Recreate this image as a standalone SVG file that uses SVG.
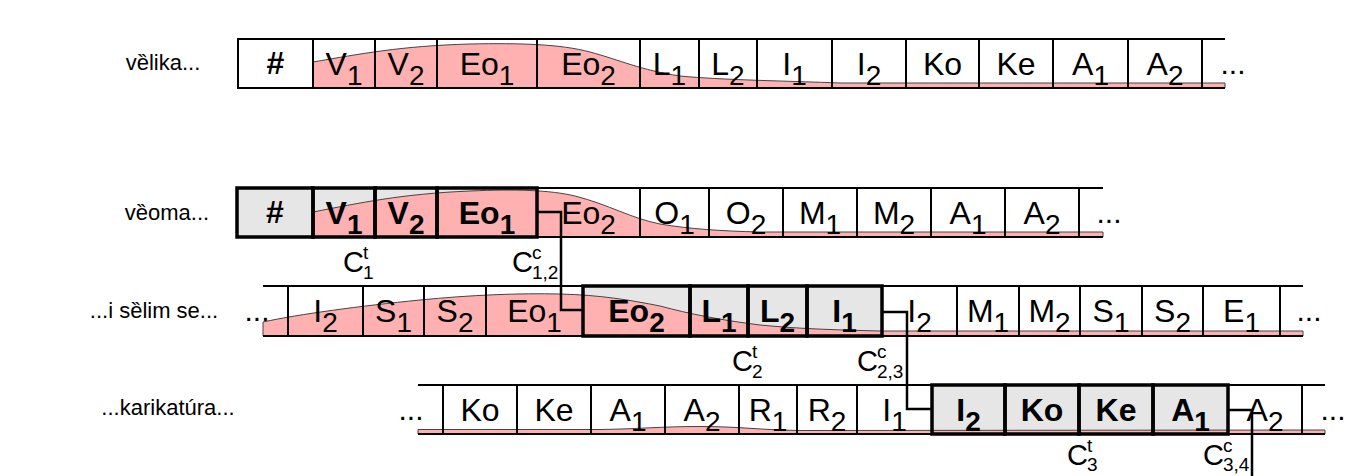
<svg xmlns="http://www.w3.org/2000/svg" width="1368" height="476" viewBox="0 0 1368 476">
  <style>
    text { font-family: "Liberation Sans", Arial, sans-serif; fill: #000; }
    .t { font-size: 32px; text-anchor: middle; }
    .s { font-size: 28px; }
    .dots { font-size: 30px; text-anchor: middle; }
    .word { font-size: 22px; text-anchor: middle; }
    .cl { font-size: 29px; }
    .cs { font-size: 19px; }
    .cell rect { fill: none; stroke: #000; stroke-width: 2; }
    .key rect { stroke-width: 3.5; }
    .key text { font-weight: bold; }
    .edge { stroke: #000; stroke-width: 2; fill: none; }
    .keybg { fill: #e6e6e6; }
    .wave { fill: #ffb0b0; stroke: #444; stroke-width: 1; }
    .link { fill: none; stroke: #000; stroke-width: 2.5; }
  </style>

  <!-- word labels -->
  <g id="words">
    <text class="word" x="163" y="70">vȅlika...</text>
    <text class="word" x="167" y="220">vȅoma...</text>
    <text class="word" x="154" y="318">...i sȅlim se...</text>
    <text class="word" x="168" y="415">...karikatúra...</text>
  </g>

  <!-- row 1: vȅlika -->
  <g id="row-velika">
    <path class="wave" d="M313,88 L313,62 C360,54 400,46 470,44 C520,43 560,44 590,52 C620,60 640,70 680,76 C720,80 790,81 840,83 L1225,83 L1225,88 Z"/>
    <g class="cell" id="r1-hash"><rect x="238" y="39" width="75" height="49"/><text class="t" x="275.5" y="74" font-weight="bold">#</text></g>
    <g class="cell" id="r1-v1"><rect x="313" y="39" width="62" height="49"/><text class="t" x="344" y="75">V<tspan class="s" dy="10">1</tspan></text></g>
    <g class="cell" id="r1-v2"><rect x="375" y="39" width="62" height="49"/><text class="t" x="406" y="75">V<tspan class="s" dy="10">2</tspan></text></g>
    <g class="cell" id="r1-eo1"><rect x="437" y="39" width="100" height="49"/><text class="t" x="487" y="75">Eo<tspan class="s" dy="10">1</tspan></text></g>
    <g class="cell" id="r1-eo2"><rect x="537" y="39" width="103" height="49"/><text class="t" x="588.5" y="75">Eo<tspan class="s" dy="10">2</tspan></text></g>
    <g class="cell" id="r1-l1"><rect x="640" y="39" width="59" height="49"/><text class="t" x="669.5" y="75">L<tspan class="s" dy="10">1</tspan></text></g>
    <g class="cell" id="r1-l2"><rect x="699" y="39" width="58" height="49"/><text class="t" x="728" y="75">L<tspan class="s" dy="10">2</tspan></text></g>
    <g class="cell" id="r1-i1"><rect x="757" y="39" width="75" height="49"/><text class="t" x="794.5" y="75">I<tspan class="s" dy="10">1</tspan></text></g>
    <g class="cell" id="r1-i2"><rect x="832" y="39" width="74" height="49"/><text class="t" x="869" y="75">I<tspan class="s" dy="10">2</tspan></text></g>
    <g class="cell" id="r1-ko"><rect x="906" y="39" width="73" height="49"/><text class="t" x="942.5" y="75">Ko</text></g>
    <g class="cell" id="r1-ke"><rect x="979" y="39" width="74" height="49"/><text class="t" x="1016" y="75">Ke</text></g>
    <g class="cell" id="r1-a1"><rect x="1053" y="39" width="75" height="49"/><text class="t" x="1090.5" y="75">A<tspan class="s" dy="10">1</tspan></text></g>
    <g class="cell" id="r1-a2"><rect x="1128" y="39" width="74" height="49"/><text class="t" x="1165" y="75">A<tspan class="s" dy="10">2</tspan></text></g>
    <path class="edge" d="M1202,39 H1225 M1202,88 H1225"/>
    <text class="dots" x="1233" y="74">...</text>
  </g>

  <!-- row 2: vȅoma -->
  <g id="row-veoma">
    <rect class="keybg" x="237" y="188" width="300" height="49"/>
    <path class="wave" d="M313,237 L313,212 C360,203 400,194 470,191 C515,189 550,190 575,196 C610,205 630,218 660,224 C690,229 720,231 760,232 L1103,232 L1103,237 Z"/>
    <g class="cell" id="r2-eo2"><rect x="537" y="188" width="103" height="49"/><text class="t" x="588.5" y="224">Eo<tspan class="s" dy="10">2</tspan></text></g>
    <g class="cell" id="r2-o1"><rect x="640" y="188" width="69" height="49"/><text class="t" x="674.5" y="224">O<tspan class="s" dy="10">1</tspan></text></g>
    <g class="cell" id="r2-o2"><rect x="709" y="188" width="74" height="49"/><text class="t" x="746" y="224">O<tspan class="s" dy="10">2</tspan></text></g>
    <g class="cell" id="r2-m1"><rect x="783" y="188" width="74" height="49"/><text class="t" x="820" y="224">M<tspan class="s" dy="10">1</tspan></text></g>
    <g class="cell" id="r2-m2"><rect x="857" y="188" width="74" height="49"/><text class="t" x="894" y="224">M<tspan class="s" dy="10">2</tspan></text></g>
    <g class="cell" id="r2-a1"><rect x="931" y="188" width="74" height="49"/><text class="t" x="968" y="224">A<tspan class="s" dy="10">1</tspan></text></g>
    <g class="cell" id="r2-a2"><rect x="1005" y="188" width="74" height="49"/><text class="t" x="1042" y="224">A<tspan class="s" dy="10">2</tspan></text></g>
    <path class="edge" d="M1079,188 H1103 M1079,237 H1103"/>
    <text class="dots" x="1109" y="223">...</text>
    <g class="cell key" id="r2-hash"><rect x="237" y="188" width="76" height="49"/><text class="t" x="275" y="223">#</text></g>
    <g class="cell key" id="r2-v1"><rect x="313" y="188" width="62" height="49"/><text class="t" x="344" y="224">V<tspan class="s" dy="10">1</tspan></text></g>
    <g class="cell key" id="r2-v2"><rect x="375" y="188" width="62" height="49"/><text class="t" x="406" y="224">V<tspan class="s" dy="10">2</tspan></text></g>
    <g class="cell key" id="r2-eo1"><rect x="437" y="188" width="100" height="49"/><text class="t" x="487" y="224">Eo<tspan class="s" dy="10">1</tspan></text></g>
  </g>

  <!-- row 3: ...i sȅlim se... -->
  <g id="row-selim">
    <rect class="keybg" x="583" y="286" width="299" height="50"/>
    <path class="wave" d="M263,336 L263,322 C300,314 360,306 420,300 C470,295 520,293 560,294 C600,295 630,300 660,306 C690,314 720,320 760,325 C800,329 840,330 880,331 L1303,331 L1303,336 Z"/>
    <text class="dots" x="257" y="321">...</text>
    <path class="edge" d="M263,286 H288 M263,336 H288"/>
    <g class="cell" id="r3-i2a"><rect x="288" y="286" width="75" height="50"/><text class="t" x="325.5" y="322">I<tspan class="s" dy="10">2</tspan></text></g>
    <g class="cell" id="r3-s1a"><rect x="363" y="286" width="61" height="50"/><text class="t" x="393.5" y="322">S<tspan class="s" dy="10">1</tspan></text></g>
    <g class="cell" id="r3-s2a"><rect x="424" y="286" width="62" height="50"/><text class="t" x="455" y="322">S<tspan class="s" dy="10">2</tspan></text></g>
    <g class="cell" id="r3-eo1"><rect x="486" y="286" width="97" height="50"/><text class="t" x="534.5" y="322">Eo<tspan class="s" dy="10">1</tspan></text></g>
    <g class="cell" id="r3-i2b"><rect x="882" y="286" width="75" height="50"/><text class="t" x="919.5" y="322">I<tspan class="s" dy="10">2</tspan></text></g>
    <g class="cell" id="r3-m1"><rect x="957" y="286" width="62" height="50"/><text class="t" x="988" y="322">M<tspan class="s" dy="10">1</tspan></text></g>
    <g class="cell" id="r3-m2"><rect x="1019" y="286" width="61" height="50"/><text class="t" x="1049.5" y="322">M<tspan class="s" dy="10">2</tspan></text></g>
    <g class="cell" id="r3-s1b"><rect x="1080" y="286" width="62" height="50"/><text class="t" x="1111" y="322">S<tspan class="s" dy="10">1</tspan></text></g>
    <g class="cell" id="r3-s2b"><rect x="1142" y="286" width="61" height="50"/><text class="t" x="1172.5" y="322">S<tspan class="s" dy="10">2</tspan></text></g>
    <g class="cell" id="r3-e1"><rect x="1203" y="286" width="77" height="50"/><text class="t" x="1241.5" y="322">E<tspan class="s" dy="10">1</tspan></text></g>
    <path class="edge" d="M1280,286 H1303 M1280,336 H1303"/>
    <text class="dots" x="1309" y="321">...</text>
    <g class="cell key" id="r3-eo2"><rect x="583" y="286" width="107" height="50"/><text class="t" x="636.5" y="322">Eo<tspan class="s" dy="10">2</tspan></text></g>
    <g class="cell key" id="r3-l1"><rect x="690" y="286" width="58" height="50"/><text class="t" x="719" y="322">L<tspan class="s" dy="10">1</tspan></text></g>
    <g class="cell key" id="r3-l2"><rect x="748" y="286" width="59" height="50"/><text class="t" x="777.5" y="322">L<tspan class="s" dy="10">2</tspan></text></g>
    <g class="cell key" id="r3-i1"><rect x="807" y="286" width="75" height="50"/><text class="t" x="844.5" y="322">I<tspan class="s" dy="10">1</tspan></text></g>
  </g>

  <!-- row 4: ...karikatúra... -->
  <g id="row-karikatura">
    <rect class="keybg" x="932" y="385" width="296" height="49"/>
    <path class="wave" d="M418,434 L418,429.5 L600,429.5 C640,429 660,426.5 700,426.5 C740,426.5 760,430 800,430.5 L1325,430 L1325,434 Z"/>
    <text class="dots" x="411" y="420">...</text>
    <path class="edge" d="M418,385 H443 M418,434 H443"/>
    <g class="cell" id="r4-ko"><rect x="443" y="385" width="74" height="49"/><text class="t" x="480" y="421">Ko</text></g>
    <g class="cell" id="r4-ke"><rect x="517" y="385" width="74" height="49"/><text class="t" x="554" y="421">Ke</text></g>
    <g class="cell" id="r4-a1"><rect x="591" y="385" width="74" height="49"/><text class="t" x="628" y="421">A<tspan class="s" dy="10">1</tspan></text></g>
    <g class="cell" id="r4-a2"><rect x="665" y="385" width="74" height="49"/><text class="t" x="702" y="421">A<tspan class="s" dy="10">2</tspan></text></g>
    <g class="cell" id="r4-r1"><rect x="739" y="385" width="58" height="49"/><text class="t" x="768" y="421">R<tspan class="s" dy="10">1</tspan></text></g>
    <g class="cell" id="r4-r2"><rect x="797" y="385" width="60" height="49"/><text class="t" x="827" y="421">R<tspan class="s" dy="10">2</tspan></text></g>
    <g class="cell" id="r4-i1"><rect x="857" y="385" width="75" height="49"/><text class="t" x="894.5" y="421">I<tspan class="s" dy="10">1</tspan></text></g>
    <g class="cell" id="r4-a2b"><rect x="1228" y="385" width="74" height="49"/><text class="t" x="1265" y="421">A<tspan class="s" dy="10">2</tspan></text></g>
    <path class="edge" d="M1302,385 H1325 M1302,434 H1325"/>
    <text class="dots" x="1333" y="420">...</text>
    <g class="cell key" id="r4-i2"><rect x="932" y="385" width="73" height="49"/><text class="t" x="968.5" y="421">I<tspan class="s" dy="10">2</tspan></text></g>
    <g class="cell key" id="r4-kob"><rect x="1005" y="385" width="74" height="49"/><text class="t" x="1042" y="421">Ko</text></g>
    <g class="cell key" id="r4-keb"><rect x="1079" y="385" width="74" height="49"/><text class="t" x="1116" y="421">Ke</text></g>
    <g class="cell key" id="r4-a1b"><rect x="1153" y="385" width="75" height="49"/><text class="t" x="1190.5" y="421">A<tspan class="s" dy="10">1</tspan></text></g>
  </g>

  <!-- connectors between consecutive syllable windows -->
  <g id="connectors">
    <polyline class="link" points="537,212 561,212 561,310 583,310"/>
    <polyline class="link" points="882,312 907,312 907,409 932,409"/>
    <polyline class="link" points="1228,410 1252,410 1252,476"/>
  </g>

  <!-- C labels under each window -->
  <g id="labels">
    <g id="ct1"><text class="cl" x="343" y="272">C</text><text class="cs" x="363" y="259">t</text><text class="cs" x="363" y="279">1</text></g>
    <g id="cc12"><text class="cl" x="512" y="272">C</text><text class="cs" x="532" y="259">c</text><text class="cs" x="532" y="279">1,2</text></g>
    <g id="ct2"><text class="cl" x="732" y="371">C</text><text class="cs" x="752" y="358">t</text><text class="cs" x="752" y="378">2</text></g>
    <g id="cc23"><text class="cl" x="857" y="371">C</text><text class="cs" x="877" y="358">c</text><text class="cs" x="877" y="378">2,3</text></g>
    <g id="ct3"><text class="cl" x="1067" y="465">C</text><text class="cs" x="1087" y="452">t</text><text class="cs" x="1087" y="471">3</text></g>
    <g id="cc34"><text class="cl" x="1203" y="465">C</text><text class="cs" x="1223" y="452">c</text><text class="cs" x="1223" y="471">3,4</text></g>
  </g>
</svg>
